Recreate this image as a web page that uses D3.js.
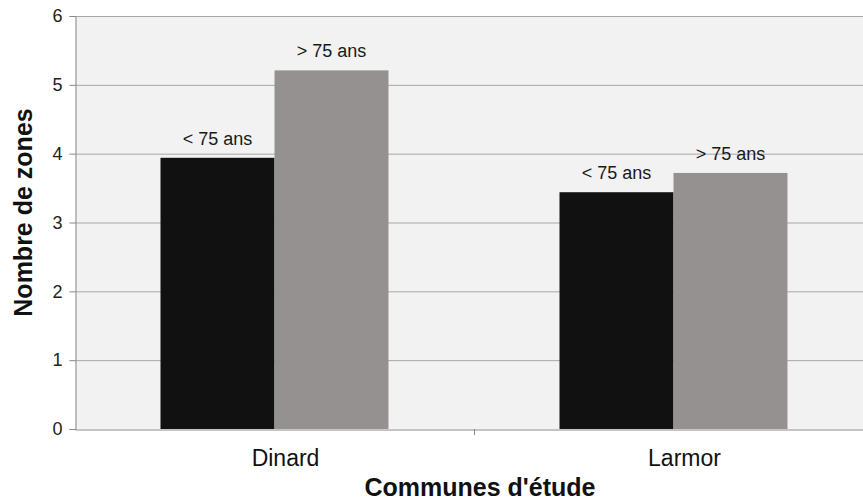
<!DOCTYPE html>
<html><head><meta charset="utf-8">
<script src="https://cdn.jsdelivr.net/npm/d3@7"></script>
<style>body{margin:0;background:#fff}svg{display:block;font-family:"Liberation Sans",Arial,sans-serif}</style>
</head><body><svg id="c" width="863" height="500"></svg>
<script>
const categories = ["Dinard", "Larmor"];
const seriesNames = ["< 75 ans", "> 75 ans"];
const lowerValues = [3.94, 3.44];   // < 75 ans
const upperValues = [5.21, 3.72];   // > 75 ans
const yTicks = [0, 1, 2, 3, 4, 5, 6];
const seriesColors = ["#111111", "#959191"];

const svg = d3.select("#c");
const m = {left: 75, top: 16, right: 873, bottom: 429};

const x0 = d3.scaleBand().domain(categories).range([m.left, m.right]).padding(0);
const x1 = d3.scaleBand().domain(seriesNames).range([0, x0.bandwidth()]).paddingInner(0).paddingOuter(0.75);
const y = d3.scaleLinear().domain([0, 6]).range([m.bottom, m.top]);

// plot background
svg.append("rect").attr("x", m.left).attr("y", m.top)
  .attr("width", m.right - m.left).attr("height", m.bottom - m.top).attr("fill", "#f2f2f2");

// gridlines
svg.append("g").selectAll("line").data(yTicks.filter(t => t > 0)).join("line")
  .attr("x1", m.left).attr("x2", m.right)
  .attr("y1", d => y(d) + 0.5).attr("y2", d => y(d) + 0.5)
  .attr("stroke", "#a6a6a6").attr("stroke-width", 1);

const rows = categories.map((c, i) => ({cat: c, vals: [lowerValues[i], upperValues[i]]}));

const g = svg.append("g").selectAll("g").data(rows).join("g")
  .attr("transform", d => `translate(${x0(d.cat)},0)`);

g.selectAll("rect").data(d => d.vals.map((v, j) => ({s: seriesNames[j], v, j}))).join("rect")
  .attr("x", d => x1(d.s)).attr("width", x1.bandwidth())
  .attr("y", d => y(d.v)).attr("height", d => y(0) - y(d.v))
  .attr("fill", d => seriesColors[d.j]);

g.selectAll("text").data(d => d.vals.map((v, j) => ({s: seriesNames[j], v, j}))).join("text")
  .attr("x", d => x1(d.s) + x1.bandwidth() / 2).attr("y", d => y(d.v) - 13)
  .attr("text-anchor", "middle").attr("font-size", 18).attr("fill", "#1a1a1a")
  .text(d => d.s);

// y axis
const yAxis = svg.append("g").attr("transform", `translate(${m.left + 0.5},0)`)
  .call(d3.axisLeft(y).tickValues(yTicks).tickSize(6).tickPadding(7).tickFormat(d3.format("d")));
yAxis.select(".domain").attr("stroke", "#8a8a8a");
yAxis.selectAll(".tick line").attr("stroke", "#8a8a8a");
yAxis.selectAll(".tick text").attr("font-size", 18).attr("fill", "#222").attr("font-family", "Liberation Sans, Arial, sans-serif");

// x axis
const xAxis = svg.append("g").attr("transform", `translate(0,${m.bottom + 0.5})`)
  .call(d3.axisBottom(x0).tickSize(0).tickPadding(0));
xAxis.select(".domain").attr("stroke", "#8a8a8a");
xAxis.selectAll(".tick text").attr("font-size", 23).attr("fill", "#111")
  .attr("font-family", "Liberation Sans, Arial, sans-serif")
  .attr("dy", null).attr("y", 36).attr("dx", 11);
// category separator tick marks
svg.append("g").selectAll("line").data(categories.slice(1)).join("line")
  .attr("x1", d => x0(d) + 0.5).attr("x2", d => x0(d) + 0.5)
  .attr("y1", m.bottom).attr("y2", m.bottom + 6).attr("stroke", "#8a8a8a");

// axis titles
svg.append("text").attr("x", (m.left + m.right) / 2 + 6).attr("y", 496)
  .attr("text-anchor", "middle").attr("font-weight", "bold").attr("font-size", 25)
  .attr("fill", "#111").text("Communes d'étude");
svg.append("text").attr("transform", `translate(32,${(m.top + m.bottom) / 2 - 10}) rotate(-90)`)
  .attr("text-anchor", "middle").attr("font-weight", "bold").attr("font-size", 25)
  .attr("fill", "#111").text("Nombre de zones");
</script></body></html>
